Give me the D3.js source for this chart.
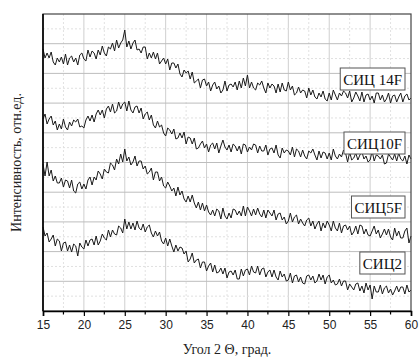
<!DOCTYPE html>
<html><head><meta charset="utf-8">
<script src="https://cdn.jsdelivr.net/npm/d3@7"></script>
<style>body{margin:0;background:#fff}svg{display:block}</style>
</head><body>
<svg id="c" width="419" height="358"></svg>
<script>
// ---- data ----
const seriesNames = ["СИЦ 14F", "СИЦ10F", "СИЦ5F", "СИЦ2"];
const angleStart = 15, angleStep = 0.25;
const xTicks = [15, 20, 25, 30, 35, 40, 45, 50, 55, 60];
const s14F = [
262,253,258,253, 259,249,246,253, 249,254,247,257, 246,253,255,249, 253,246,256,258,
252,250,261,254, 260,258,252,261, 256,265,258,255, 264,262,268,260, 271,263,268,271,
281,264,270,262, 268,271,261,262, 258,264,264,252, 258,253,259,252, 258,247,250,253,
247,252,241,248, 248,243,247,237, 234,241,238,240, 232,239,228,230, 232,223,231,232,
225,229,220,226, 229,222,225,218, 221,230,220,226, 227,224,229,221, 230,223,233,225,
236,223,229,223, 221,228,226,230, 223,218,228,223, 227,225,218,227, 219,228,221,220,
229,221,225,216, 218,224,218,221, 220,213,223,216, 221,214,212,218, 214,220,212,210,
218,211,221,216, 211,218,215,220, 218,213,220,209, 213,219,215,210, 219,209,216,217,
211,215,208,218, 218,211,216,209, 212,218,208,215, 216,209,214,218, 209,215,217,211,
213];
const s10F = [
192,197,187,192, 195,186,190,181, 187,182,192,184, 181,189,185,191, 189,192,184,185,
183,191,195,190, 196,189,197,201, 196,201,193,202, 205,199,207,198, 200,209,202,207,
209,200,210,201, 198,204,205,198, 203,192,197,199, 191,196,186,183, 190,184,186,178,
175,183,181,177, 182,172,173,178, 173,179,167,174, 173,167,173,162, 163,167,170,163,
167,159,166,168, 162,168,158,165, 171,164,161,166, 159,167,165,160, 165,157,167,166,
159,164,161,167, 166,158,165,160, 160,166,156,162, 163,158,166,156, 153,163,158,161,
160,156,164,154, 162,160,154,161, 155,152,160,158, 162,156,151,160, 153,159,158,152,
158,151,162,155, 152,157,154,161, 158,149,159,151, 153,158,151,156, 159,152,155,149,
151,160,150,156, 155,152,156,147, 148,157,154,151, 157,150,158,152, 150,155,147,156,
152];
const s5F = [
147,135,149,135, 141,130,135,128, 128,133,124,131, 130,123,131,120, 118,127,129,122,
127,122,131,134, 126,134,131,140, 137,132,142,139, 138,148,146,141, 152,147,157,149,
162,150,154,146, 149,155,145,150, 150,142,145,137, 139,143,131,139, 139,130,134,125,
123,129,125,120, 123,115,124,116, 120,112,109,115, 109,116,108,103, 109,101,108,100,
106,99,96,101, 95,102,100,92, 103,95,92,98, 93,102,101,96, 100,95,105,95,
104,100,95,102, 96,103,97,94, 101,93,101,98, 95,101,91,97, 98,91,94,87,
90,98,89,94, 96,87,92,88, 85,91,93,85, 90,82,87,90, 80,88,83,90,
86,80,90,83, 80,88,78,85, 86,81,85,76, 79,85,77,86, 85,77,82,76,
75,80,85,77, 81,73,77,82, 76,82,74,71, 83,75,80,73, 73,80,83,68,
75];
const s2 = [
84,75,78,69, 72,76,65,72, 70,60,68,69, 60,66,59,67, 65,55,68,64,
62,71,65,71, 72,66,75,66, 70,77,73,71, 81,74,81,77, 76,85,83,78,
92,82,89,82, 88,81,90,83, 81,87,79,84, 86,78,74,80, 75,79,70,67,
73,65,72,65, 59,66,60,64, 63,57,60,49, 52,58,48,51, 52,43,49,49,
40,45,48,39, 46,38,39,43, 37,43,33,39, 40,36,41,32, 32,42,35,41,
42,36,45,39, 38,45,36,42, 43,34,39,41, 34,41,34,31, 40,34,37,30,
31,38,28,35, 36,29,34,28, 27,35,36,31, 35,28,30,37, 31,36,27,34,
36,28,31,26, 27,32,25,30, 30,21,27,24, 21,27,28,20, 25,18,28,21,
26,12,25,19, 19,26,17,23, 25,18,22,16, 20,25,19,24, 24,17,26,19,
21];
const seriesValues = [s14F, s10F, s5F, s2];

// ---- layout ----
const L = 43, R = 411, T = 14, B = 311;
const labelTops = [68, 132, 196, 252];   // layout of label boxes (px)
const labelRight = 405;

const svg = d3.select("#c");
const x = d3.scaleLinear().domain([15, 60]).range([L, R]);
const y = d3.scaleLinear().domain([0, 297]).range([B, T]);

// grid
const g = svg.append("g");
const xMinor = d3.range(15, 60.01, 2.5).filter(v => v % 5 !== 0);
const yStep = 297 / 20;
const yAll = d3.range(1, 20).map(i => i * yStep);
g.selectAll(".vmin").data(xMinor).join("line")
  .attr("x1", d => x(d)).attr("x2", d => x(d)).attr("y1", T).attr("y2", B)
  .attr("stroke", "#e2e2e2").attr("stroke-dasharray", "2,2");
g.selectAll(".vmaj").data(xTicks.slice(1, -1)).join("line")
  .attr("x1", d => x(d)).attr("x2", d => x(d)).attr("y1", T).attr("y2", B)
  .attr("stroke", "#cfcfcf");
g.selectAll(".h").data(yAll).join("line")
  .attr("x1", L).attr("x2", R).attr("y1", d => y(d)).attr("y2", d => y(d))
  .attr("stroke", (d, i) => i % 2 === 1 ? "#bdbdbd" : "#e0e0e0")
  .attr("stroke-dasharray", (d, i) => i % 2 === 1 ? null : "2,2");

// series
const line = d3.line()
  .x((d, i) => x(angleStart + i * angleStep))
  .y(d => y(d));
svg.append("g").selectAll("path").data(seriesValues).join("path")
  .attr("d", d => line(d))
  .attr("fill", "none").attr("stroke", "#1a1a1a").attr("stroke-width", 1)
  .attr("stroke-linejoin", "round");

// frame
svg.append("rect").attr("x", L).attr("y", T).attr("width", R - L).attr("height", B - T)
  .attr("fill", "none").attr("stroke", "#444").attr("stroke-width", 1.2);
svg.append("line").attr("x1", L).attr("x2", L).attr("y1", T).attr("y2", B)
  .attr("stroke", "#000").attr("stroke-width", 1.6);

// x axis
const xAxis = d3.axisBottom(x).tickValues(xTicks).tickSize(5).tickPadding(4).tickFormat(d3.format("d"));
const ax = svg.append("g").attr("transform", `translate(0,${B})`).call(xAxis);
ax.select(".domain").attr("stroke", "#000").attr("stroke-width", 1.6);
ax.selectAll(".tick line").attr("stroke", "#000").attr("stroke-width", 1.2);
ax.selectAll(".tick text").attr("font-family", "Liberation Sans, Arial, sans-serif")
  .attr("font-size", 12).attr("fill", "#222");
svg.append("g").attr("transform", `translate(0,${B})`)
  .selectAll("line").data(xMinor).join("line")
  .attr("x1", d => x(d)).attr("x2", d => x(d)).attr("y1", 0).attr("y2", 3.5)
  .attr("stroke", "#000").attr("stroke-width", 1.2);

// titles
svg.append("text").attr("x", (L + R) / 2).attr("y", 354).attr("text-anchor", "middle")
  .attr("font-family", "Liberation Serif, Times New Roman, serif").attr("font-size", 14)
  .attr("fill", "#222").text("Угол 2 Θ, град.");
svg.append("text").attr("transform", `translate(21,${(T + B) / 2}) rotate(-90)`)
  .attr("text-anchor", "middle")
  .attr("font-family", "Liberation Serif, Times New Roman, serif").attr("font-size", 14)
  .attr("fill", "#222").text("Интенсивность, отн.ед.");

// labels
seriesNames.forEach((name, i) => {
  const gg = svg.append("g");
  const t = gg.append("text").attr("font-family", "Liberation Serif, Times New Roman, serif")
    .attr("font-size", 15).attr("fill", "#111").attr("text-anchor", "end")
    .attr("x", labelRight - 3).attr("y", labelTops[i] + 16.5).text(name);
  const bb = t.node().getBBox();
  gg.insert("rect", "text").attr("x", bb.x - 3).attr("y", labelTops[i])
    .attr("width", bb.width + 6).attr("height", 22)
    .attr("fill", "#fff").attr("stroke", "#555").attr("stroke-width", 1);
});
</script>
</body></html>
